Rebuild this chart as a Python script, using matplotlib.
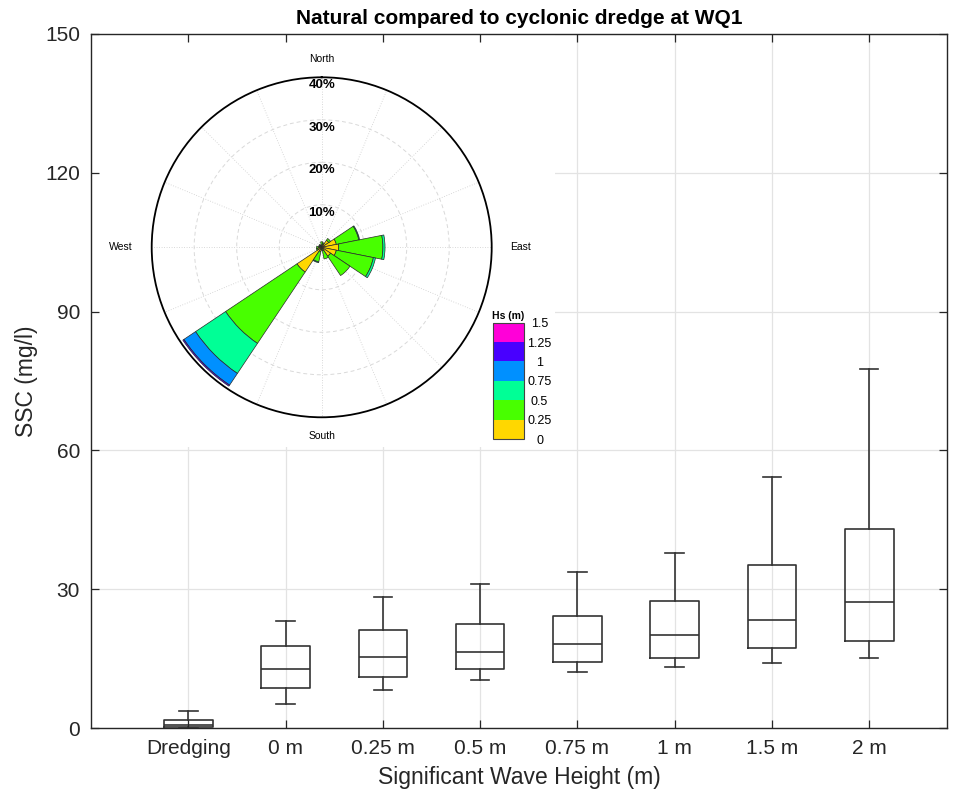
import numpy as np
import matplotlib
matplotlib.use("Agg")
import matplotlib.pyplot as plt
from matplotlib.colors import ListedColormap, BoundaryNorm
from matplotlib.cm import ScalarMappable

plt.rcParams['font.family'] = ['Liberation Sans', 'DejaVu Sans']

# ---------------- data ----------------
categories = ["Dredging", "0 m", "0.25 m", "0.5 m", "0.75 m", "1 m", "1.5 m", "2 m"]
whis_lo = [0.0, 5.2, 8.2, 10.4, 12.0, 13.1, 14.1, 15.2]
q1      = [0.2, 8.7, 11.1, 12.8, 14.2, 15.2, 17.2, 18.8]
median  = [0.6, 12.8, 15.4, 16.5, 18.1, 20.1, 23.4, 27.3]
q3      = [1.7, 17.7, 21.1, 22.4, 24.3, 27.5, 35.3, 43.0]
whis_hi = [3.7, 23.2, 28.3, 31.1, 33.8, 37.8, 54.3, 77.5]
y_ticks = [0, 30, 60, 90, 120, 150]

# wave rose (percent of time), 16 compass directions
dir_deg = [0, 22.5, 45, 67.5, 90, 112.5, 135, 157.5,
           180, 202.5, 225, 247.5, 270, 292.5, 315, 337.5]
hs_0_025    = [0.5, 0.8, 2.0, 3.5, 4.0, 3.5, 2.5, 0.8, 0.3, 1.0, 7.0, 1.0, 0.8, 0.4, 0.5, 0.4]
hs_025_05   = [0.8, 0.3, 0.5, 5.4, 10.4, 8.9, 5.5, 2.0, 0.4, 2.5, 20.2, 0.3, 0.4, 0.3, 0.3, 0.2]
hs_05_075   = [0, 0, 0, 0.2, 0.5, 0.5, 0, 0, 0, 0.2, 8.5, 0, 0, 0, 0, 0]
hs_075_1    = [0, 0, 0, 0, 0, 0, 0, 0, 0, 0, 3.3, 0, 0, 0, 0, 0]
hs_1_125    = [0, 0, 0, 0, 0, 0, 0, 0, 0, 0, 0.3, 0, 0, 0, 0, 0]
hs_125_15   = [0, 0, 0, 0, 0, 0, 0, 0, 0, 0, 0.0, 0, 0, 0, 0, 0]
hs_levels = [0, 0.25, 0.5, 0.75, 1, 1.25, 1.5]
hs_level_labels = ["0", "0.25", "0.5", "0.75", "1", "1.25", "1.5"]
hs_colors = ["#FFD700", "#48FF00", "#00FF96", "#0090FF", "#4800FF", "#FF00D8"]
ring_values = [10, 20, 30, 40]

# ---------------- figure ----------------
W, H = 960, 805
fig = plt.figure(figsize=(W / 100, H / 100), dpi=100)

def rect(x0, y0, x1, y1):
    return [x0 / W, (H - y1) / H, (x1 - x0) / W, (y1 - y0) / H]

main_rect = rect(91, 34, 947, 728)
ax = fig.add_axes(main_rect, zorder=1)

stats = []
for i in range(len(categories)):
    stats.append(dict(med=median[i], q1=q1[i], q3=q3[i],
                      whislo=whis_lo[i], whishi=whis_hi[i], fliers=[]))
lc = "#333333"
ax.bxp(stats, positions=np.arange(1, len(categories) + 1), widths=0.5,
       capwidths=0.19, showfliers=False, patch_artist=False,
       boxprops=dict(color=lc, linewidth=1.2),
       medianprops=dict(color=lc, linewidth=1.2),
       whiskerprops=dict(color=lc, linewidth=1.2, linestyle='-'),
       capprops=dict(color=lc, linewidth=1.2))
ax.set_xlim(0, 8.8)
ax.set_ylim(0, 150)
ax.set_xticks(np.arange(1, len(categories) + 1))
ax.set_xticklabels(categories, fontsize=15, color="#262626")
ax.set_yticks(y_ticks)
ax.set_yticklabels([str(v) for v in y_ticks], fontsize=15, color="#262626")
ax.grid(True, color="#e3e3e3", linewidth=0.9)
ax.set_axisbelow(True)
ax.tick_params(length=0, pad=8)
for s in ax.spines.values():
    s.set_visible(False)
ax.set_xlabel("Significant Wave Height (m)", fontsize=16.5, color="#262626", labelpad=6)
ax.set_ylabel("SSC (mg/l)", fontsize=16.5, color="#262626", labelpad=5)
ax.set_title("Natural compared to cyclonic dredge at WQ1", fontsize=15,
             fontweight="bold", pad=7)

# white background of the inset (hides main gridlines)
bg = fig.add_axes(rect(92, 35, 555, 447), zorder=2)
bg.set_facecolor("white")
bg.set_xticks([]); bg.set_yticks([])
for s in bg.spines.values():
    s.set_visible(False)

# frame on top (spines and ticks)
fr = fig.add_axes(main_rect, zorder=5, sharex=ax, sharey=ax)
fr.set_facecolor("none")
fr.tick_params(direction="in", length=6, width=0.9, color="#262626",
               top=True, right=True, labelbottom=False, labelleft=False)
for s in fr.spines.values():
    s.set_color("#262626"); s.set_linewidth(1.0)
fr.grid(False)

# ---------------- wave rose ----------------
cx, cy, R = 321.7, 247.3, 170
axp = fig.add_axes(rect(cx - R, cy - R, cx + R, cy + R), projection="polar", zorder=3)
axp.set_facecolor("none")
axp.set_theta_zero_location("N")
axp.set_theta_direction(-1)
axp.set_ylim(0, 40)
axp.set_yticks(ring_values)
axp.set_yticklabels([])
axp.set_xticks(np.deg2rad(np.arange(0, 360, 22.5)))
axp.set_xticklabels([])
axp.tick_params(length=0)
axp.xaxis.grid(True, color="#cccccc", linestyle=(0, (1, 2)), linewidth=0.6)
axp.yaxis.grid(True, color="#d9d9d9", linestyle=(0, (4, 3)), linewidth=0.7)
axp.set_axisbelow(True)
axp.spines["polar"].set_color("black")
axp.spines["polar"].set_linewidth(1.3)

theta = np.deg2rad(dir_deg)
width = np.deg2rad(22.5)
bins = [hs_0_025, hs_025_05, hs_05_075, hs_075_1, hs_1_125, hs_125_15]
cum = np.zeros(len(dir_deg))
for j, vals in enumerate(bins):
    v = np.array(vals, dtype=float)
    m = v > 0
    if m.any():
        axp.bar(theta[m], v[m], width=width, bottom=cum[m], color=hs_colors[j],
                edgecolor="#2a2a2a", linewidth=0.5, align="center", zorder=3)
    cum += v

for rv in ring_values:
    axp.text(0, rv - 1.9, f"{rv}%", ha="center", va="center", fontsize=9.5,
             fontweight="bold", zorder=4)
axp.text(0, 44.3, "North", ha="center", va="center", fontsize=7.5)
axp.text(np.pi, 44.4, "South", ha="center", va="center", fontsize=7.5)
axp.text(np.pi / 2, 46.7, "East", ha="center", va="center", fontsize=7.5)
axp.text(3 * np.pi / 2, 47.2, "West", ha="center", va="center", fontsize=7.5)

# colorbar
cax = fig.add_axes(rect(492.7, 322.7, 524.3, 439), zorder=4)
cmap = ListedColormap(hs_colors)
norm = BoundaryNorm(hs_levels, cmap.N)
cb = fig.colorbar(ScalarMappable(norm=norm, cmap=cmap), cax=cax, ticks=hs_levels)
cb.ax.set_yticklabels(hs_level_labels, fontsize=9, ha="center")
cb.ax.tick_params(length=0, pad=11)
cb.outline.set_edgecolor("#444444")
cb.outline.set_linewidth(0.8)
cax.set_title("Hs (m)", fontsize=7.5, fontweight="bold", pad=3)

fig.savefig("out.png", dpi=100)
